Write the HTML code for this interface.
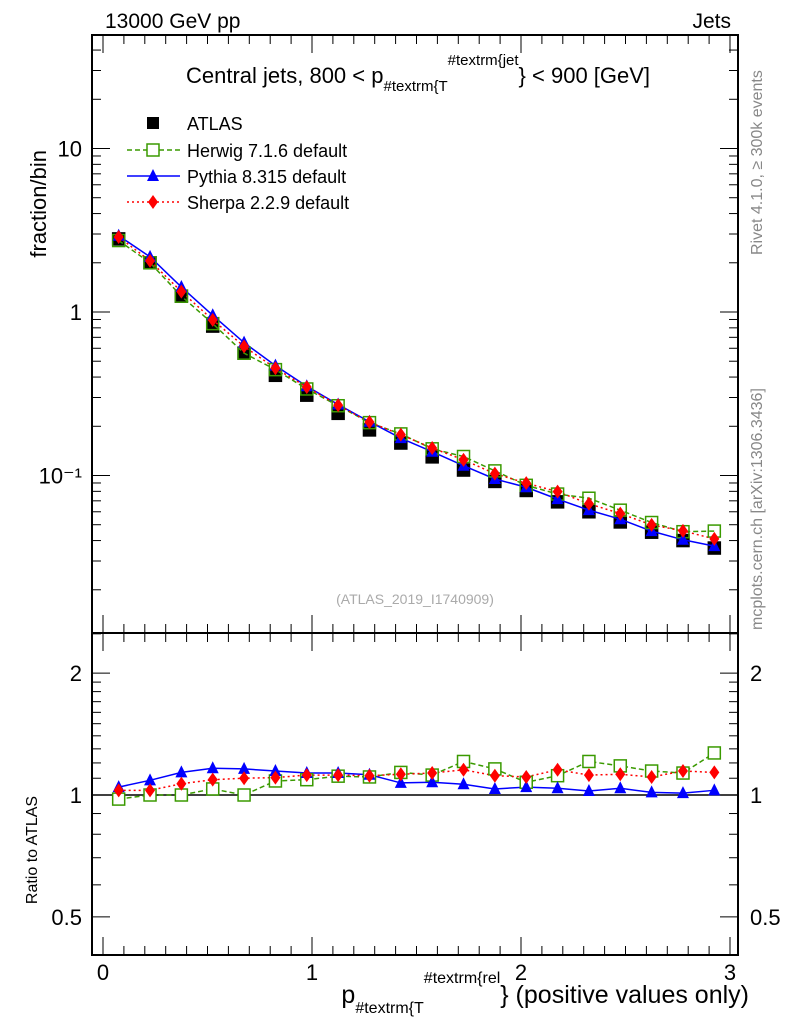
<!DOCTYPE html>
<html><head><meta charset="utf-8"><style>
body{margin:0;background:#fff;}
svg{display:block;font-family:"Liberation Sans",sans-serif;}
</style></head><body>
<svg id="c" width="786" height="1024" viewBox="0 0 786 1024" xmlns="http://www.w3.org/2000/svg">
<text x="105" y="28" font-size="21">13000 GeV pp</text>
<text x="731" y="28" font-size="21" text-anchor="end">Jets</text>
<text x="418" y="83" font-size="22" text-anchor="middle">Central jets, 800 &lt; p<tspan font-size="15" dy="8">#textrm{T</tspan><tspan font-size="15" dy="-26">#textrm{jet</tspan><tspan dy="18">} &lt; 900 [GeV]</tspan></text>
<text x="0" y="0" font-size="22" transform="translate(46,150) rotate(-90)" text-anchor="end">fraction/bin</text>
<text x="0" y="0" font-size="16" transform="translate(37,850) rotate(-90)" text-anchor="middle">Ratio to ATLAS</text>
<text x="0" y="0" font-size="16" fill="#888" transform="translate(762,255) rotate(-90)">Rivet 4.1.0, ≥ 300k events</text>
<text x="0" y="0" font-size="16" fill="#888" transform="translate(762,630) rotate(-90)">mcplots.cern.ch [arXiv:1306.3436]</text>
<text x="415" y="604" font-size="14" fill="#aaa" text-anchor="middle">(ATLAS_2019_I1740909)</text>
<text x="749" y="1003" font-size="25" text-anchor="end">p<tspan font-size="16" dy="10">#textrm{T</tspan><tspan font-size="16" dy="-30">#textrm{rel</tspan><tspan dy="20">} (positive values only)</tspan></text>
<g id="axes"></g>
<g id="marks"></g>
<g id="legend"></g>
</svg>
<script>
var xCenters=[0.075,0.225,0.375,0.525,0.675,0.825,0.975,1.125,1.275,1.425,1.575,1.725,1.875,2.025,2.175,2.325,2.475,2.625,2.775,2.925];
var atlas=[2.8,2.0,1.25,0.82,0.56,0.41,0.31,0.24,0.19,0.158,0.13,0.108,0.092,0.081,0.069,0.060,0.052,0.045,0.040,0.036];
var pythiaRatio=[1.046,1.087,1.137,1.164,1.16,1.146,1.133,1.133,1.122,1.071,1.075,1.063,1.035,1.046,1.039,1.023,1.039,1.015,1.011,1.027];
var herwigRatio=[0.977,1.0,1.0,1.035,1.0,1.083,1.091,1.113,1.108,1.137,1.12,1.21,1.16,1.075,1.116,1.21,1.18,1.146,1.133,1.27];
var sherpaRatio=[1.027,1.027,1.066,1.091,1.1,1.104,1.12,1.12,1.116,1.125,1.133,1.154,1.116,1.108,1.154,1.12,1.125,1.108,1.146,1.137];
var xTicks=[0,1,2,3];
var yTickLabels=["10","1","10⁻¹"];
var ratioTicks=[0.5,1,2];

(function(){
var SVGNS="http://www.w3.org/2000/svg";
var pL=92,pR=738,pT=35,pM=633,pB=955;
function sx(v){return 103+v*209;}
function sy(v){return 312-Math.log10(v)*163.5;}
function sry(v){return 795-Math.log10(v)*405;}
function mk(tag,attrs,parent){var e=document.createElementNS(SVGNS,tag);for(var k in attrs){e.setAttribute(k,attrs[k]);}parent.appendChild(e);return e;}
var gAx=document.getElementById('axes'),gMk=document.getElementById('marks'),gLg=document.getElementById('legend');
var i,v,k;

var f1=mk('rect',{x:pL,y:pT,width:pR-pL,height:pM-pT,fill:'none',stroke:'#000','stroke-width':2},gAx);


var f2=mk('rect',{x:pL,y:pM,width:pR-pL,height:pB-pM,fill:'none',stroke:'#000','stroke-width':2},gAx);



for(k=0;k<=30;k++){
  v=k/10;var big=(k%10===0);var h=big?18:9;
  mk('line',{x1:sx(v),x2:sx(v),y1:pM,y2:pM-h,stroke:'#000'},gAx);
  mk('line',{x1:sx(v),x2:sx(v),y1:pT,y2:pT+h,stroke:'#000'},gAx);
  mk('line',{x1:sx(v),x2:sx(v),y1:pB,y2:pB-h,stroke:'#000'},gAx);
  mk('line',{x1:sx(v),x2:sx(v),y1:pM,y2:pM+h,stroke:'#000'},gAx);
}
for(i=0;i<xTicks.length;i++){
  var t=mk('text',{x:sx(xTicks[i]),y:980,'font-size':22,'text-anchor':'middle'},gAx);
  t.textContent=String(xTicks[i]);
  
  
}
for(var d=-2;d<=1;d++){for(var m=1;m<=9;m++){
  v=m*Math.pow(10,d);var y=sy(v);if(y<pT||y>pM)continue;var hh=(m===1)?18:9;
  mk('line',{x1:pL,x2:pL+hh,y1:y,y2:y,stroke:'#000'},gAx);
  mk('line',{x1:pR,x2:pR-hh,y1:y,y2:y,stroke:'#000'},gAx);
}}
var yv=[10,1,0.1];
for(i=0;i<3;i++){
  var t2=mk('text',{x:82,y:sy(yv[i])+8,'font-size':22,'text-anchor':'end'},gAx);
  t2.textContent=yTickLabels[i];
  
  
}
var rmin=[0.4,0.5,0.6,0.7,0.8,0.9,1,1.1,1.2,1.3,1.4,1.5,1.6,1.7,1.8,1.9,2,2.5];
for(i=0;i<rmin.length;i++){
  var yy=sry(rmin[i]);if(yy<pM||yy>pB)continue;var h3=(ratioTicks.indexOf(rmin[i])>=0)?18:9;
  mk('line',{x1:pL,x2:pL+h3,y1:yy,y2:yy,stroke:'#000'},gAx);
  mk('line',{x1:pR,x2:pR-h3,y1:yy,y2:yy,stroke:'#000'},gAx);
}
for(i=0;i<ratioTicks.length;i++){
  var ta=mk('text',{x:82,y:sry(ratioTicks[i])+8,'font-size':22,'text-anchor':'end'},gAx);
  ta.textContent=String(ratioTicks[i]);
  
  
  var tb=mk('text',{x:750,y:sry(ratioTicks[i])+8,'font-size':22,'text-anchor':'start'},gAx);
  tb.textContent=String(ratioTicks[i]);
  
  
}
mk('line',{x1:pL,x2:pR,y1:sry(1),y2:sry(1),stroke:'#000','stroke-width':1.5},gAx);

var herwig=atlas.map(function(a,j){return a*herwigRatio[j];});
var pythia=atlas.map(function(a,j){return a*pythiaRatio[j];});
var sherpa=atlas.map(function(a,j){return a*sherpaRatio[j];});
function drawLine(vals,yf,col,dash,name){
  var pts=vals.map(function(val,j){return sx(xCenters[j])+','+yf(val);}).join(' ');
  var at={points:pts,fill:'none',stroke:col,'stroke-width':1.5};
  if(dash)at['stroke-dasharray']=dash;
  var p=mk('polyline',at,gMk);
  
  
}
function sq(x,y,fill,stroke,name){
  var r=mk('rect',{x:x-6,y:y-6,width:12,height:12,fill:fill,stroke:stroke,'stroke-width':1.5},gMk);
  
  
}
function tri(x,y,name){
  var p=mk('polygon',{points:x+','+(y-7)+' '+(x-6)+','+(y+5)+' '+(x+6)+','+(y+5),fill:'#00f'},gMk);
  
  
}
function dia(x,y,name){
  var p=mk('polygon',{points:x+','+(y-7)+' '+(x+5)+','+y+' '+x+','+(y+7)+' '+(x-5)+','+y,fill:'#f00'},gMk);
  
  
}
for(i=0;i<atlas.length;i++)sq(sx(xCenters[i]),sy(atlas[i]),'#000','#000','atlas-point');
drawLine(herwig,sy,'#3a9a00','5,3','herwig-line');
drawLine(pythia,sy,'#00f','','pythia-line');
drawLine(sherpa,sy,'#f00','2,3','sherpa-line');
for(i=0;i<atlas.length;i++){
  sq(sx(xCenters[i]),sy(herwig[i]),'none','#3a9a00','herwig-point');
  tri(sx(xCenters[i]),sy(pythia[i]),'pythia-point');
  dia(sx(xCenters[i]),sy(sherpa[i]),'sherpa-point');
}
drawLine(herwigRatio,sry,'#3a9a00','5,3','herwig-ratio-line');
drawLine(pythiaRatio,sry,'#00f','','pythia-ratio-line');
drawLine(sherpaRatio,sry,'#f00','2,3','sherpa-ratio-line');
for(i=0;i<atlas.length;i++){
  sq(sx(xCenters[i]),sry(herwigRatio[i]),'#fff','#3a9a00','herwig-ratio-point');
  tri(sx(xCenters[i]),sry(pythiaRatio[i]),'pythia-ratio-point');
  dia(sx(xCenters[i]),sry(sherpaRatio[i]),'sherpa-ratio-point');
}
var names=["ATLAS","Herwig 7.1.6 default","Pythia 8.315 default","Sherpa 2.2.9 default"];
var ly=[123,150,176,202];
for(i=0;i<4;i++){
  var g=mk('g',{},gLg);
  
  
  var c=ly[i];
  if(i===0){mk('rect',{x:147,y:c-6,width:12,height:12,fill:'#000'},g);}
  if(i===1){mk('line',{x1:127,x2:180,y1:c,y2:c,stroke:'#3a9a00','stroke-width':1.5,'stroke-dasharray':'5,3'},g);mk('rect',{x:147,y:c-6,width:12,height:12,fill:'#fff',stroke:'#3a9a00','stroke-width':1.5},g);}
  if(i===2){mk('line',{x1:127,x2:180,y1:c,y2:c,stroke:'#00f','stroke-width':1.5},g);mk('polygon',{points:'153,'+(c-7)+' 147,'+(c+5)+' 159,'+(c+5),fill:'#00f'},g);}
  if(i===3){mk('line',{x1:127,x2:180,y1:c,y2:c,stroke:'#f00','stroke-width':1.5,'stroke-dasharray':'2,3'},g);mk('polygon',{points:'153,'+(c-7)+' 158,'+c+' 153,'+(c+7)+' 148,'+c,fill:'#f00'},g);}
  var tx=mk('text',{x:187,y:c+7,'font-size':18},g);
  tx.textContent=names[i];
}
})();
</script>
</body></html>
